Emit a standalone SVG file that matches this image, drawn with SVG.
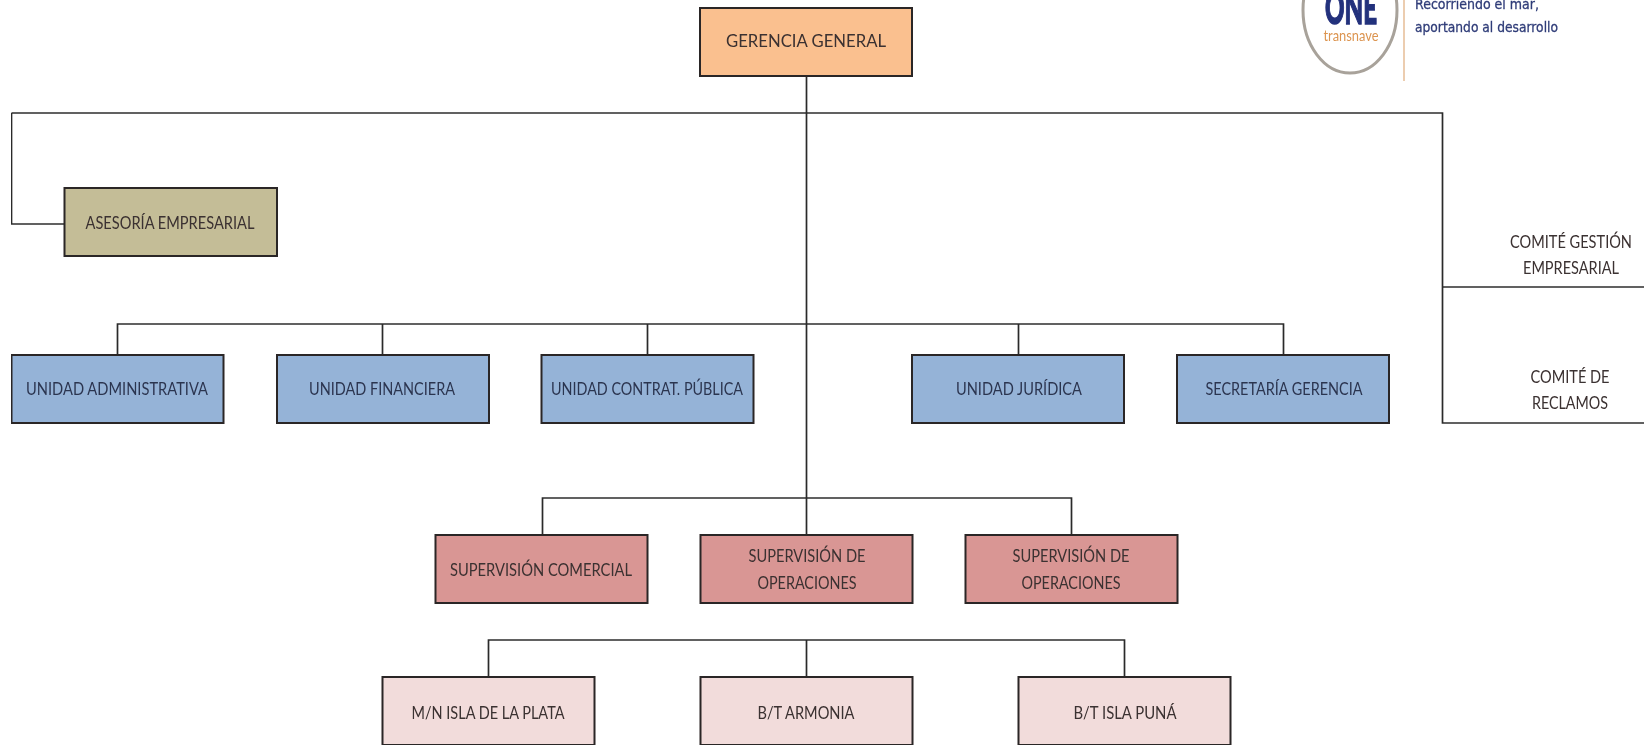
<svg xmlns="http://www.w3.org/2000/svg" width="1644" height="746" viewBox="0 0 1644 746">
<defs><filter id="soft" x="0" y="0" width="100%" height="100%"><feGaussianBlur stdDeviation="0.4"/></filter></defs>
<style>
.box{stroke:#2b2626;stroke-width:2}
.c{fill:none;stroke:#2b2b2b;stroke-width:1.7}
text{font-family:"Lato","Open Sans","Liberation Sans",sans-serif;font-size:16.5px;fill:#3a3030;text-anchor:middle;lengthAdjust:spacingAndGlyphs}
.gg{fill:#fac08f}.as{fill:#c4bd97}.un{fill:#95b3d7}.su{fill:#d99694}.bt{fill:#f2dcdb}
.un+text{fill:#2c3550}
.hand{font-family:"DejaVu Sans",sans-serif;fill:#2f3c78;font-size:14px;text-anchor:start;stroke:#2f3c78;stroke-width:.3}
</style>
<rect width="1644" height="746" fill="#fff"/>
<g filter="url(#soft)">
<g id="connectors">
<path class="c" d="M806.500 76V498M11.500 113H1442.500V423H1644M1442.500 287H1644M11.500 113V224H64M117.500 355V324H1283.500V355M382.500 324V355M647.500 324V355M1018.500 324V355M542.500 535V498H1071.500V535M806.500 498V535M488.500 677V640H1124.500V677M806.500 640V677"/>
</g>
<g id="logo">
<ellipse cx="1350" cy="10" rx="47" ry="63" fill="#fff" stroke="#a8a29a" stroke-width="3"/>
<text x="1351" y="24" style="font-size:46px;font-weight:900;fill:#24307c;stroke:#24307c;stroke-width:1.5" textLength="52" lengthAdjust="spacingAndGlyphs">ONE</text>
<text x="1351" y="41" style="font-size:15px;fill:#dc944f" textLength="55" lengthAdjust="spacingAndGlyphs">transnave</text>
<path d="M1404 0V81" stroke="#eccdb0" stroke-width="2" fill="none"/>
<text class="hand" x="1415" y="9" textLength="124" lengthAdjust="spacingAndGlyphs">Recorriendo el mar,</text>
<text class="hand" x="1415" y="32" textLength="143" lengthAdjust="spacingAndGlyphs">aportando al desarrollo</text>
</g>
<g id="gerencia-general"><rect class="box gg" x="700" y="8" width="212" height="68"/><text x="806" y="47" style="font-size:17.500px" textLength="160" lengthAdjust="spacingAndGlyphs">GERENCIA GENERAL</text></g>
<g id="asesoria"><rect class="box as" x="64.500" y="188" width="212.500" height="68"/><text x="170" y="229" textLength="169" lengthAdjust="spacingAndGlyphs">ASESORÍA EMPRESARIAL</text></g>
<g id="unidad-administrativa"><rect class="box un" x="11.500" y="355" width="212" height="68"/><text x="117" y="395" textLength="182" lengthAdjust="spacingAndGlyphs">UNIDAD ADMINISTRATIVA</text></g>
<g id="unidad-financiera"><rect class="box un" x="277" y="355" width="212" height="68"/><text x="382" y="395" textLength="146" lengthAdjust="spacingAndGlyphs">UNIDAD FINANCIERA</text></g>
<g id="unidad-contrat"><rect class="box un" x="541.500" y="355" width="212" height="68"/><text x="647" y="395" textLength="192" lengthAdjust="spacingAndGlyphs">UNIDAD CONTRAT. PÚBLICA</text></g>
<g id="unidad-juridica"><rect class="box un" x="912" y="355" width="212" height="68"/><text x="1019" y="395" textLength="126" lengthAdjust="spacingAndGlyphs">UNIDAD JURÍDICA</text></g>
<g id="secretaria"><rect class="box un" x="1177" y="355" width="212" height="68"/><text x="1284" y="395" textLength="157" lengthAdjust="spacingAndGlyphs">SECRETARÍA GERENCIA</text></g>
<g id="comite-gestion"><text x="1571" y="248" textLength="122" lengthAdjust="spacingAndGlyphs">COMITÉ GESTIÓN</text><text x="1571" y="274" textLength="96" lengthAdjust="spacingAndGlyphs">EMPRESARIAL</text></g>
<g id="comite-reclamos"><text x="1570" y="383" textLength="79" lengthAdjust="spacingAndGlyphs">COMITÉ DE</text><text x="1570" y="409" textLength="76" lengthAdjust="spacingAndGlyphs">RECLAMOS</text></g>
<g id="supervision-comercial"><rect class="box su" x="435.500" y="535" width="212" height="68"/><text x="541" y="576" textLength="182" lengthAdjust="spacingAndGlyphs">SUPERVISIÓN COMERCIAL</text></g>
<g id="supervision-operaciones-1"><rect class="box su" x="700.500" y="535" width="212" height="68"/><text x="807" y="562" textLength="117" lengthAdjust="spacingAndGlyphs">SUPERVISIÓN DE</text><text x="807" y="589" textLength="99" lengthAdjust="spacingAndGlyphs">OPERACIONES</text></g>
<g id="supervision-operaciones-2"><rect class="box su" x="965.500" y="535" width="212" height="68"/><text x="1071" y="562" textLength="117" lengthAdjust="spacingAndGlyphs">SUPERVISIÓN DE</text><text x="1071" y="589" textLength="99" lengthAdjust="spacingAndGlyphs">OPERACIONES</text></g>
<g id="isla-plata"><rect class="box bt" x="382.500" y="677" width="212" height="68"/><text x="488" y="719" textLength="153" lengthAdjust="spacingAndGlyphs">M/N ISLA DE LA PLATA</text></g>
<g id="armonia"><rect class="box bt" x="700.500" y="677" width="212" height="68"/><text x="806" y="719" textLength="97" lengthAdjust="spacingAndGlyphs">B/T ARMONIA</text></g>
<g id="isla-puna"><rect class="box bt" x="1018.500" y="677" width="212" height="68"/><text x="1125" y="719" textLength="103" lengthAdjust="spacingAndGlyphs">B/T ISLA PUNÁ</text></g>
</g>
</svg>
